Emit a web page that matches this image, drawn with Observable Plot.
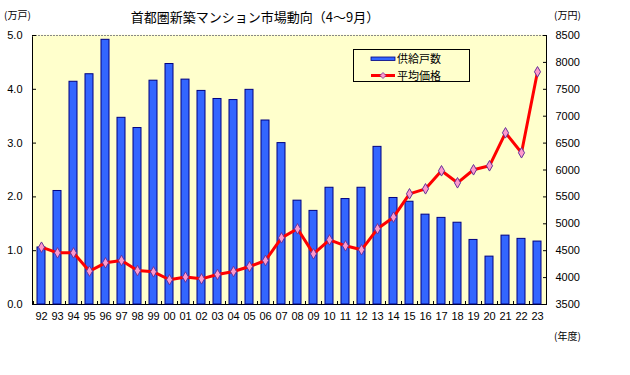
<!DOCTYPE html>
<html>
<head>
<meta charset="utf-8">
<script src="https://cdn.jsdelivr.net/npm/d3@7"></script>
<script src="https://cdn.jsdelivr.net/npm/@observablehq/plot@0.6"></script>
<style>
  html, body { margin: 0; padding: 0; background: #fff; }
  #chart { width: 630px; height: 375px; }
</style>
</head>
<body>
<div id="chart"></div>
<script>
const years = ["92","93","94","95","96","97","98","99","00","01","02","03","04","05","06","07","08","09","10","11","12","13","14","15","16","17","18","19","20","21","22","23"];
const supply = [1.06,2.11,4.14,4.28,4.92,3.47,3.28,4.16,4.47,4.18,3.97,3.82,3.80,3.99,3.42,3.00,1.93,1.74,2.17,1.96,2.17,2.93,1.98,1.91,1.67,1.61,1.52,1.20,0.89,1.28,1.22,1.17];
const price = [4565,4460,4460,4120,4275,4318,4130,4107,3960,4010,3977,4058,4113,4206,4318,4739,4907,4442,4702,4591,4517,4907,5123,5557,5650,5985,5762,6004,6078,6691,6320,7825];
const leftTicks = [0,1,2,3,4,5];
const rightTicks = [3500,4000,4500,5000,5500,6000,6500,7000,7500,8000,8500];
const seriesNames = ["供給戸数","平均価格"];
const titleText = "首都圏新築マンション市場動向（4～9月）";
const leftUnit = "(万戸)";
const rightUnit = "(万円)";
const xUnit = "(年度)";

const priceMin = 3500, priceMax = 8500, supplyMax = 5;
const toY = p => (p - priceMin) / (priceMax - priceMin) * supplyMax;
const data = years.map((y, i) => ({year: y, supply: supply[i], price: price[i]}));

const numFont = "'Liberation Sans',Arial,sans-serif";
const jpFont = "'Noto Sans CJK JP',sans-serif";

const chart = Plot.plot({
  width: 630, height: 375,
  marginLeft: 32, marginRight: 84, marginTop: 35, marginBottom: 71,
  style: {background: "#fff", fontFamily: numFont, fontSize: "11px", color: "#000"},
  x: {domain: years, paddingInner: 0.5, paddingOuter: 0.25, axis: null},
  y: {domain: [0, supplyMax], axis: null},
  marks: [
    Plot.frame({fill: "#ffffcc", stroke: "#000"}),
    Plot.ruleY([supplyMax], {stroke: "#ffffcc", strokeWidth: 1.5}),
    Plot.ruleY([supplyMax], {stroke: "#888", strokeDasharray: "2,1"}),
    Plot.barY(data, {x: "year", y: "supply", fill: "#3366ff", stroke: "#000080", strokeWidth: 1}),
    Plot.line(data, {x: "year", y: d => toY(d.price), stroke: "#ff0000", strokeWidth: 3}),
    Plot.dot(data, {x: "year", y: d => toY(d.price), symbol: "diamond", r: 3.2, fill: "#ff99cc", stroke: "#663399", strokeWidth: 1}),
    Plot.axisY({anchor: "left", label: null, ticks: leftTicks, tickSize: 0, tickPadding: 10, tickFormat: d => d.toFixed(1)}),
    Plot.axisY({anchor: "left", label: null, ticks: leftTicks, tickSize: -4, tickFormat: () => ""}),
    Plot.axisY({anchor: "right", label: null, ticks: rightTicks.map(toY), tickSize: 0, tickPadding: 9, tickFormat: d => String(Math.round(d / supplyMax * (priceMax - priceMin) + priceMin))}),
    Plot.axisY({anchor: "right", label: null, ticks: rightTicks.map(toY), tickSize: -4, tickFormat: () => ""}),
    Plot.axisX({anchor: "bottom", label: null, tickSize: 0, tickPadding: 8}),
    Plot.axisX({anchor: "bottom", label: null, tickSize: -3, tickFormat: () => "", dx: -8})
  ]
});

const svg = d3.select(chart);
// title and units
svg.append("text").attr("x", 255).attr("y", 22).attr("text-anchor", "middle")
  .style("font-family", jpFont).style("font-size", "13px").text(titleText);
svg.append("text").attr("x", 4).attr("y", 19).attr("text-anchor", "start")
  .style("font-family", jpFont).style("font-size", "10px").text(leftUnit);
svg.append("text").attr("x", 554).attr("y", 19).attr("text-anchor", "start")
  .style("font-family", jpFont).style("font-size", "10px").text(rightUnit);
svg.append("text").attr("x", 554).attr("y", 340).attr("text-anchor", "start")
  .style("font-family", jpFont).style("font-size", "10px").text(xUnit);

// legend
const lg = svg.append("g");
lg.append("rect").attr("x", 353.5).attr("y", 49.5).attr("width", 116).attr("height", 32)
  .attr("fill", "#ffffcc").attr("stroke", "#000");
lg.append("rect").attr("x", 371).attr("y", 57).attr("width", 24).attr("height", 3.5)
  .attr("fill", "#3366ff").attr("stroke", "#000080").attr("stroke-width", 0.8);
lg.append("line").attr("x1", 371).attr("x2", 395).attr("y1", 75.5).attr("y2", 75.5)
  .attr("stroke", "#ff0000").attr("stroke-width", 3);
lg.append("path").attr("d", "M383,72.5L386,75.5L383,78.5L380,75.5Z")
  .attr("fill", "#ff99cc").attr("stroke", "#663399").attr("stroke-width", 0.8);
lg.append("text").attr("x", 397).attr("y", 62.5).attr("text-anchor", "start").style("font-family", jpFont).style("font-size", "11px").text(seriesNames[0]);
lg.append("text").attr("x", 397).attr("y", 79.5).attr("text-anchor", "start").style("font-family", jpFont).style("font-size", "11px").text(seriesNames[1]);

document.getElementById("chart").appendChild(chart);
</script>
</body>
</html>
